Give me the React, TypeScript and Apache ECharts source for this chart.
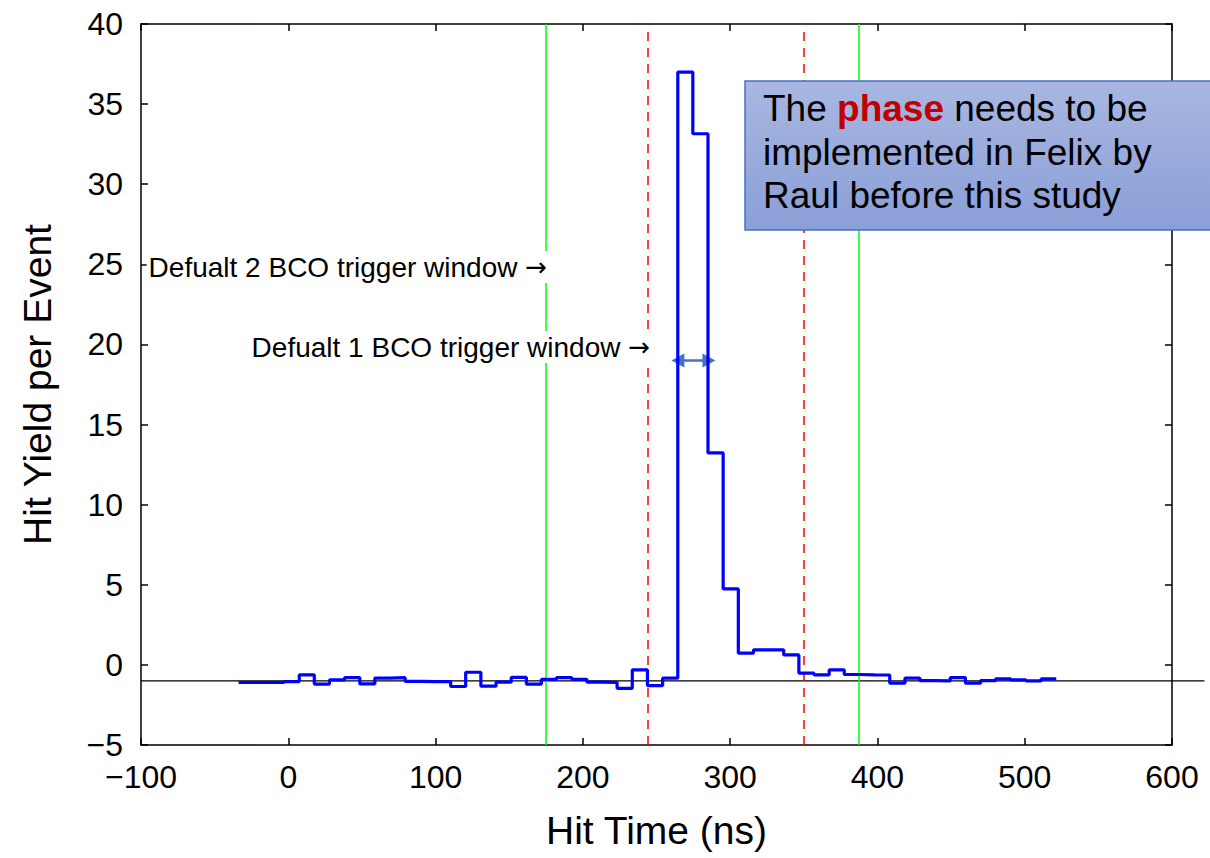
import React, { useEffect, useRef } from "react";
import * as echarts from "echarts";

// Bin centres of the hit-time histogram (ns)
const hitTimeNs = [
  -28.6, -18.3, -8.0, 2.3, 12.6, 22.8, 33.1, 43.4, 53.7, 63.9,
  74.2, 84.5, 94.8, 105.1, 115.4, 125.6, 135.9, 146.2, 156.5, 166.8,
  177.0, 187.3, 197.6, 207.9, 218.2, 228.4, 238.7, 249.0, 259.3, 269.6,
  279.8, 290.1, 300.4, 310.7, 321.0, 331.2, 341.5, 351.8, 362.1, 372.4,
  382.6, 392.9, 403.2, 413.5, 423.8, 434.0, 444.3, 454.6, 464.9, 475.2,
  485.4, 495.7, 506.0, 516.3,
];
const binWidthNs = 10.28;

// Hit yield per event for each bin
const hitYield = [
  -1.1, -1.1, -1.1, -1.04, -0.62, -1.2, -0.94, -0.79, -1.19, -0.82,
  -0.8, -1.03, -1.04, -1.04, -1.35, -0.46, -1.33, -1.08, -0.78, -1.2,
  -0.9, -0.79, -0.9, -1.08, -1.1, -1.46, -0.31, -1.29, -0.83, 37.0,
  33.15, 13.23, 4.74, 0.73, 0.94, 0.94, 0.62, -0.52, -0.62, -0.31,
  -0.6, -0.62, -0.63, -1.14, -0.83, -0.98, -1.0, -0.79, -1.14, -0.98,
  -0.87, -0.94, -1.0, -0.87,
];

// Trigger windows (ns)
const twoBcoWindow = [175, 387.5];
const oneBcoWindow = [243.75, 350];
const baselineYield = -1;
const baselineSpan = [-100, 622];
const arrowSpan = [264.5, 285.6];
const arrowYield = 19;

const xRange = [-100, 600, 100];
const yRange = [-5, 40, 5];

const label2 = "Defualt 2 BCO trigger window";
const label1 = "Defualt 1 BCO trigger window";
const noteLine1a = "The ";
const noteLine1b = "phase";
const noteLine1c = " needs to be";
const noteLine2 = "implemented in Felix by";
const noteLine3 = "Raul before this study";

const FONT = "'Liberation Sans', Arial, Helvetica, sans-serif";
const NOTE_FONT = "'Liberation Sans', Arial, sans-serif";
const fmt = (v: number) => String(v).replace("-", "\u2212");

function measure(text: string, font: string): number {
  const ctx = document.createElement("canvas").getContext("2d");
  if (!ctx) return text.length * 18;
  ctx.font = font;
  return ctx.measureText(text).width;
}

export default function App() {
  const ref = useRef<HTMLDivElement>(null);
  useEffect(() => {
    const chart = echarts.init(ref.current!, null, { renderer: "svg" });
    const w = binWidthNs;
    const stepData = hitTimeNs.map((c, i) => [c - w / 2, hitYield[i]]);
    stepData.push([
      hitTimeNs[hitTimeNs.length - 1] + w / 2,
      hitYield[hitYield.length - 1],
    ]);

    const axisCommon = {
      axisLine: { show: true, onZero: false, lineStyle: { color: "#000", width: 1.5 } },
      axisTick: { show: true, inside: true, length: 7, lineStyle: { color: "#000", width: 1.5 } },
      splitLine: { show: false },
    };

    const noteSize = 37;
    const wThe = measure(noteLine1a, `${noteSize}px 'Liberation Sans'`);
    const wPhase = measure(noteLine1b, `bold ${noteSize}px 'Liberation Sans'`);
    const noteX = 763;
    const lineY = [108.5, 152, 195.5];

    const labelStyle = (text: string) => ({
      text: text + " {a|\u2192}",
      fontFamily: FONT,
      fontSize: 28,
      fill: "#000",
      backgroundColor: "#fff",
      padding: [2, 2, 2, 2],
      rich: {
        a: { fontFamily: "'DejaVu Sans', sans-serif", fontSize: 26, fill: "#000" },
      },
    });

    const noteText = (text: string, x: number, y: number, extra: any = {}) => ({
      type: "text",
      z: 101,
      x,
      y,
      style: {
        text,
        fontFamily: NOTE_FONT,
        fontSize: noteSize,
        fill: "#000",
        verticalAlign: "middle",
        ...extra,
      },
    });

    const option: any = {
      animation: false,
      backgroundColor: "#fff",
      grid: { left: 141, right: 38, top: 24, bottom: 113, containLabel: false },
      xAxis: [
        {
          type: "value",
          min: xRange[0],
          max: xRange[1],
          interval: xRange[2],
          position: "bottom",
          name: "Hit Time (ns)",
          nameLocation: "middle",
          nameGap: 66,
          nameTextStyle: { fontFamily: FONT, fontSize: 39, color: "#000" },
          axisLabel: { fontFamily: FONT, fontSize: 32, color: "#000", margin: 16, formatter: fmt },
          ...axisCommon,
        },
        {
          type: "value",
          min: xRange[0],
          max: xRange[1],
          interval: xRange[2],
          position: "top",
          axisLabel: { show: false },
          ...axisCommon,
        },
      ],
      yAxis: [
        {
          type: "value",
          min: yRange[0],
          max: yRange[1],
          interval: yRange[2],
          position: "left",
          name: "Hit Yield per Event",
          nameLocation: "middle",
          nameGap: 84,
          nameTextStyle: { fontFamily: FONT, fontSize: 39, color: "#000" },
          axisLabel: { fontFamily: FONT, fontSize: 32, color: "#000", margin: 18, formatter: fmt },
          ...axisCommon,
        },
        {
          type: "value",
          min: yRange[0],
          max: yRange[1],
          interval: yRange[2],
          position: "right",
          axisLabel: { show: false },
          ...axisCommon,
        },
      ],
      series: [
        {
          type: "line",
          name: "Hit yield",
          data: stepData,
          step: "end",
          showSymbol: false,
          clip: false,
          lineStyle: { color: "#0000ff", width: 3.2 },
          z: 5,
          markLine: {
            silent: true,
            symbol: ["none", "none"],
            label: { show: false },
            data: [
              ...twoBcoWindow.map((x) => ({
                xAxis: x,
                lineStyle: { color: "#00ff00", width: 1.5, type: "solid" },
              })),
              ...oneBcoWindow.map((x) => ({
                xAxis: x,
                lineStyle: { color: "#ff0000", width: 1.5, type: [9, 7] },
              })),
            ],
          },
        },
        {
          type: "line",
          name: "arrow",
          data: stepData.slice(0, 1),
          showSymbol: false,
          lineStyle: { opacity: 0 },
          silent: true,
          z: 6,
          markLine: {
            silent: true,
            symbol: ["triangle", "triangle"],
            symbolSize: [14, 13],
            label: { show: false },
            lineStyle: { color: "#4472c4", width: 2.5, type: "solid" },
            data: [
              [
                { coord: [arrowSpan[0], arrowYield] },
                { coord: [arrowSpan[1], arrowYield] },
              ],
            ],
          },
        },
      ],
      graphic: [
        {
          type: "text",
          id: "label2",
          z: 100,
          right: 1210 - 549,
          top: 251,
          style: labelStyle(label2),
        },
        {
          type: "text",
          id: "label1",
          z: 100,
          right: 1210 - 652,
          top: 331,
          style: labelStyle(label1),
        },
        {
          type: "rect",
          id: "noteBox",
          z: 100,
          shape: { x: 745, y: 81, width: 480, height: 149 },
          style: {
            fill: new echarts.graphic.LinearGradient(0, 0, 0, 1, [
              { offset: 0, color: "#a9b7e1" },
              { offset: 1, color: "#8a9fd7" },
            ]),
            stroke: "#4472c4",
            lineWidth: 1.5,
          },
        },
        { id: "n1a", ...noteText(noteLine1a, noteX, lineY[0]) },
        {
          id: "n1b",
          ...noteText(noteLine1b, noteX + wThe, lineY[0], {
            fontWeight: "bold",
            fill: "#c00000",
          }),
        },
        { id: "n1c", ...noteText(noteLine1c, noteX + wThe + wPhase, lineY[0]) },
        { id: "n2", ...noteText(noteLine2, noteX, lineY[1]) },
        { id: "n3", ...noteText(noteLine3, noteX, lineY[2]) },
      ],
    };
    chart.setOption(option);

    // Reference line at y = -1, extending slightly past the right frame
    const p0 = chart.convertToPixel({ gridIndex: 0 }, [baselineSpan[0], baselineYield]) as number[];
    const p1 = chart.convertToPixel({ gridIndex: 0 }, [baselineSpan[1], baselineYield]) as number[];
    chart.setOption({
      graphic: [
        {
          id: "baseline",
          type: "line",
          z: 4,
          shape: { x1: p0[0], y1: p0[1], x2: p1[0], y2: p1[1] },
          style: { stroke: "#000", lineWidth: 1.3 },
          silent: true,
        },
      ],
    });
    return () => chart.dispose();
  }, []);
  return (
    <div
      ref={ref}
      style={{ position: "fixed", left: 0, top: 0, width: 1210, height: 858 }}
    />
  );
}
